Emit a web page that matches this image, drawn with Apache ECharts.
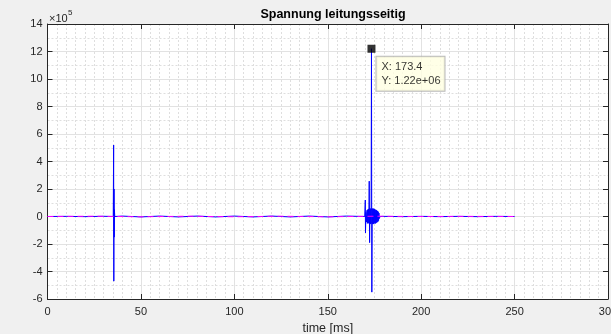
<!DOCTYPE html>
<html><head><meta charset="utf-8">
<script src="https://cdn.jsdelivr.net/npm/echarts@6/dist/echarts.min.js"></script>
<style>html,body{margin:0;padding:0;background:#f0f0f0}#c{width:611px;height:334px}</style>
</head><body><div id="c"></div>
<script>
// x ticks (ms) and y ticks (x 1e5)
const xTicks = [0, 50, 100, 150, 200, 250, 300];
const yTicks = [-6, -4, -2, 0, 2, 4, 6, 8, 10, 12, 14];
// blue trace: time [ms]
const blueT = [0, 10, 20, 30, 35.2, 35.4, 35.5, 35.6, 35.7, 35.8, 36.0, 40, 50, 60, 70, 80, 90, 100, 110, 120, 130, 140, 150, 160, 169.8,
  170.1, 170.2, 170.4, 170.7, 171.0, 171.2, 171.4, 171.6, 171.8, 172.0, 172.2, 172.4, 172.6, 172.8, 173.0, 173.2, 173.4, 173.6, 173.8,
  174.0, 174.2, 174.4, 174.6, 174.8, 175.0, 175.2, 175.4, 175.6, 175.8, 176.0, 176.2, 176.4, 176.6, 176.8, 177.0, 177.2, 177.4, 177.6, 178.0, 180, 190, 200, 210, 220, 230, 240, 250];
// blue trace: voltage
const blueV = [0, 1000, -1000, 1500, 0, 520000, -470000, 200000, -150000, 50000, 0, 3000, -3000, 3000, -3000, 3000, -3000, 3000, -3000, 3000, -3000, 3000, -3000, 3000, 0,
  120000, -120000, 30000, -40000, 45000, -50000, 50000, -45000, 55000, -50000, 257000, -190000, 60000, -55000, 55000, -50000, 1220000, -550000, 55000,
  -55000, 60000, -55000, 55000, -50000, 55000, -50000, 50000, -50000, 48000, -45000, 45000, -42000, 40000, -38000, 35000, -30000, 25000, -15000, 0, 1000, -1000, 1000, -1000, 1000, -1000, 1000, 0];
// magenta trace
const magT = [0, 25, 50, 75, 100, 125, 150, 175, 200, 225, 250];
const magV = [0, 2000, -2000, 2000, -2000, 2000, -2000, 2000, 0, 1000, 0];
// data tip
const tipT = [173.4];
const tipV = [1220000];

const chart = echarts.init(document.getElementById('c'));
const font = 'Liberation Sans, Arial, Helvetica, sans-serif';
const axisCol = '#262626';
const xAxisBase = {
  type: 'value', min: xTicks[0], max: xTicks[xTicks.length - 1], interval: 50,
  axisLine: {show: true, onZero: false, lineStyle: {color: axisCol, width: 1}},
  axisTick: {show: true, inside: true, length: 5, lineStyle: {color: axisCol}},
  minorTick: {show: false},
};
const yAxisBase = {
  type: 'value', min: yTicks[0] * 1e5, max: yTicks[yTicks.length - 1] * 1e5, interval: 2e5,
  axisLine: {show: true, onZero: false, lineStyle: {color: axisCol, width: 1}},
  axisTick: {show: true, inside: true, length: 5, lineStyle: {color: axisCol}},
};
chart.setOption({
  backgroundColor: '#f0f0f0',
  animation: false,
  title: {text: 'Spannung leitungsseitig', left: 328, top: 3, textAlign: 'center',
    textStyle: {fontFamily: font, fontSize: 12.5, fontWeight: 'bold', color: '#000'}},
  grid: {left: 47.5, right: 3, top: 24, bottom: 35, outerBoundsMode: 'none', containLabel: false,
    show: true, backgroundColor: '#fff', borderWidth: 0},
  xAxis: [
    Object.assign({}, xAxisBase, {position: 'bottom',
      name: 'time [ms]', nameLocation: 'middle', nameGap: 21,
      nameTextStyle: {fontFamily: font, fontSize: 12.5, color: axisCol},
      axisLabel: {fontFamily: font, fontSize: 11, color: axisCol, margin: 7},
      splitLine: {show: true, lineStyle: {color: '#e2e2e2', width: 1}},
      minorTick: {show: false, splitNumber: 10},
      minorSplitLine: {show: true, lineStyle: {color: '#dedede', type: [2, 2], width: 1}}}),
    Object.assign({}, xAxisBase, {position: 'top', axisLabel: {show: false}, splitLine: {show: false}})
  ],
  yAxis: [
    Object.assign({}, yAxisBase, {position: 'left',
      axisLabel: {fontFamily: font, fontSize: 11, color: axisCol, margin: 5, formatter: v => String(Math.round(v / 1e5))},
      splitLine: {show: true, lineStyle: {color: '#e2e2e2', width: 1}},
      minorTick: {show: false, splitNumber: 2},
      minorSplitLine: {show: true, lineStyle: {color: '#dedede', type: [2, 2], width: 1}}}),
    Object.assign({}, yAxisBase, {position: 'right', axisLabel: {show: false}, splitLine: {show: false}})
  ],
  graphic: [
    {type: 'text', left: 49, top: 13, style: {text: '×10', fontFamily: font, fontSize: 11, fill: axisCol}},
    {type: 'text', left: 68, top: 9, style: {text: '5', fontFamily: font, fontSize: 8, fill: axisCol}}
  ],
  series: [
    {type: 'line', data: magT.map((t, i) => [t, magV[i]]), symbol: 'none',
      lineStyle: {color: '#ff00ff', width: 1, type: [6, 4]}, z: 3},
    {type: 'line', data: blueT.map((t, i) => [t, blueV[i]]), symbol: 'none',
      lineStyle: {color: '#0000ff', width: 1}, z: 2},
    {type: 'scatter', data: tipT.map((t, i) => [t, tipV[i]]), symbol: 'rect', symbolSize: 8,
      itemStyle: {color: '#000'}, z: 5,
      label: {show: true, position: [9, 12], align: 'left', verticalAlign: 'top',
        formatter: p => 'X: ' + p.value[0] + '\nY: ' + (p.value[1] / 1e6).toFixed(2) + 'e+06',
        fontFamily: font, fontSize: 11, lineHeight: 14, color: '#000',
        backgroundColor: '#ffffe1', borderColor: '#a8a8a8', borderWidth: 1, padding: [3, 4, 3, 5]}}
  ]
});
</script></body></html>
